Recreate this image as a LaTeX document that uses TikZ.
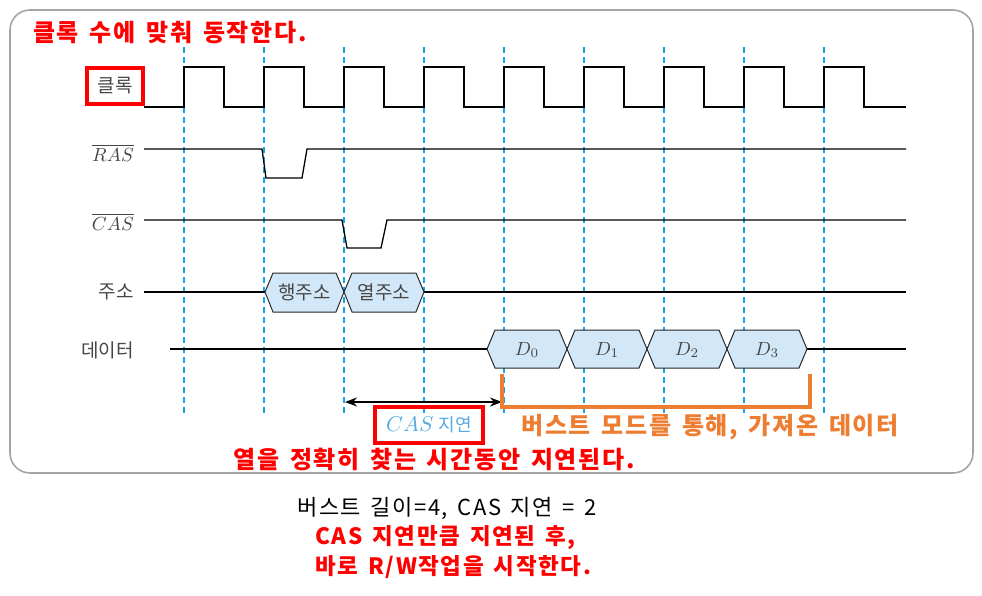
\documentclass[tikz,border=0pt]{standalone}
\usepackage{graphicx}
\usepackage{fontspec}
\newfontfamily\kr{Noto Sans CJK KR}
\newfontfamily\krsp{Noto Sans CJK KR}[LetterSpace=7, WordSpace=1.5]
\usetikzlibrary{arrows.meta}
\definecolor{clkblue}{RGB}{20,165,230}
\definecolor{hexfill}{RGB}{210,231,247}
\definecolor{myred}{RGB}{255,0,0}
\definecolor{myorange}{RGB}{237,125,49}
\definecolor{labgray}{RGB}{70,70,70}
\definecolor{caslab}{RGB}{85,170,225}
\definecolor{framegray}{RGB}{165,165,165}
\newcommand{\mymathlab}[1]{\scalebox{1.9}{$#1$}}
\begin{document}
\begin{tikzpicture}[x=1pt,y=-1pt,
  sig/.style={line width=1.3pt, line join=miter},
  tick/.style={clkblue, line width=2.4pt, dash pattern=on 6pt off 4pt},
  hexa/.style={draw=black!85, fill=hexfill, line width=1pt},
  lab/.style={text=labgray, font=\kr\fontsize{19}{22}\selectfont, inner sep=0pt},
  mlab/.style={text=labgray, inner sep=0pt},
  redbold/.style={text=myred, font=\krsp\bfseries\fontsize{24}{28}\selectfont, inner sep=0pt},
  redbox/.style={draw=myred, line width=3.2pt},
]
\useasboundingbox (0,0) rectangle (982,595);
% frame
\draw[framegray, line width=1.6pt, rounded corners=20pt] (10,10) rectangle (973,473);
% dashed clock ticks
\foreach \x in {184,264,344,424,504,584,664,744,824}
  \draw[tick] (\x,47) -- (\x,414);
% clock
\draw[sig] (144,107)
  \foreach \x in {184,264,344,424,504,584,664,744,824} { -- (\x,107) -- (\x,67) -- ({\x+40},67) -- ({\x+40},107) }
  -- (906,107);
% RAS
\draw[sig] (144,149) -- (262,149) -- (266,178) -- (302,178) -- (307,149) -- (906,149);
% CAS
\draw[sig] (144,220) -- (342,220) -- (347,248) -- (381,248) -- (387,220) -- (906,220);
% address
\draw[sig] (144,292) -- (265,292);
\draw[sig] (424,292) -- (906,292);
\filldraw[hexa] (265,292) -- (273,273) -- (336,273) -- (344,292) -- (336,312) -- (273,312) -- cycle;
\filldraw[hexa] (344,292) -- (352,273) -- (416,273) -- (424,292) -- (416,312) -- (352,312) -- cycle;
\node[lab] (hj) at (304.5,292) {행주소};
\node[lab] (yj) at (384,292) {열주소};
% data
\draw[sig] (170,349) -- (487,349);
\draw[sig] (807,349) -- (906,349);
\foreach \a/\i in {487/0,567/1,647/2,727/3} {
  \filldraw[hexa] (\a,349) -- ({\a+8},330) -- ({\a+72},330) -- ({\a+80},349) -- ({\a+72},368) -- ({\a+8},368) -- cycle;
  \node[mlab] (d\i) at ({\a+40},350) {\mymathlab{D_{\i}}};
}
% labels
\node[lab, redbox, minimum width=56pt, minimum height=36pt] (clk) at (115,86) {클록};
\node[mlab, anchor=east] (ras) at (134,153) {\mymathlab{\overline{RAS}}};
\node[mlab, anchor=east] (cas) at (134,222) {\mymathlab{\overline{CAS}}};
\node[lab, anchor=east] (addr) at (134,292) {주소};
\node[lab, anchor=east] (data) at (134,350) {데이터};
% CAS latency arrow
\coordinate (cl1) at (345,402);
\coordinate (cl2) at (502,402);
\draw[line width=1.3pt, {Stealth[length=12pt,width=9pt]}-{Stealth[length=12pt,width=9pt]}] (cl1) -- (cl2);
\node[redbox, minimum width=108pt, minimum height=36pt, text=caslab] (caslat) at (429,425) {\scalebox{2.15}{$CAS$}\hspace{5pt}{\kr\fontsize{18}{22}\selectfont 지연}};
% burst bracket
\draw[myorange, line width=4pt] (502,374) -- (502,407) -- (810,407) -- (810,374);
\node[redbold, text=myorange] (burst) at (710,427) {버스트 모드를 통해, 가져온 데이터};
% red notes
\node[redbold, anchor=west] (top) at (33,33) {클록 수에 맞춰 동작한다.};
\node[redbold] (delay) at (434,459) {열을 정확히 찾는 시간동안 지연된다.};
% bottom text
\node[font=\krsp\fontsize{22}{24}\selectfont, inner sep=0pt] (info) at (447,508) {버스트 길이=4, CAS 지연 = 2};
\node[redbold, anchor=west, font=\krsp\bfseries\fontsize{22.5}{24}\selectfont] (n1) at (315,538) {CAS 지연만큼 지연된 후,};
\node[redbold, anchor=west, font=\krsp\bfseries\fontsize{22.5}{24}\selectfont] (n2) at (315,567) {바로 R/W작업을 시작한다.};
\end{tikzpicture}
\end{document}
